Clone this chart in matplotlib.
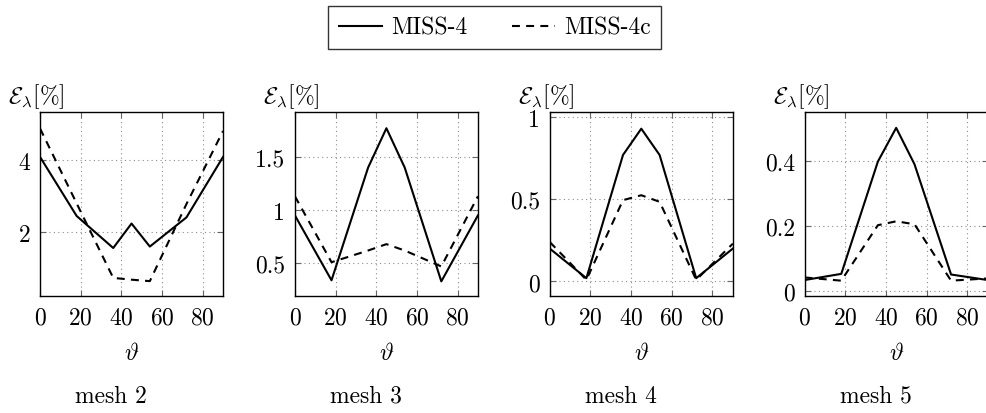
import matplotlib
matplotlib.use("Agg")
import matplotlib.pyplot as plt
from matplotlib.ticker import FuncFormatter

plt.rcParams['font.family'] = 'serif'
plt.rcParams['font.serif'] = ['cmr10', 'DejaVu Serif']
plt.rcParams['mathtext.fontset'] = 'cm'
plt.rcParams['axes.formatter.use_mathtext'] = True
plt.rcParams['font.size'] = 17

theta = [0, 18, 36, 45, 54, 72, 90]

miss4_mesh2 = [4.09, 2.45, 1.56, 2.24, 1.60, 2.41, 4.09]
miss4c_mesh2 = [4.88, 2.80, 0.73, 0.68, 0.64, 2.78, 4.81]
miss4_mesh3 = [0.95, 0.34, 1.40, 1.77, 1.40, 0.33, 0.95]
miss4c_mesh3 = [1.13, 0.51, 0.62, 0.68, 0.62, 0.47, 1.13]
miss4_mesh4 = [0.20, 0.02, 0.77, 0.93, 0.77, 0.02, 0.20]
miss4c_mesh4 = [0.24, 0.01, 0.495, 0.525, 0.485, 0.01, 0.23]
miss4_mesh5 = [0.033, 0.052, 0.398, 0.502, 0.39, 0.05, 0.033]
miss4c_mesh5 = [0.041, 0.031, 0.202, 0.214, 0.205, 0.031, 0.038]

mesh_names = ['mesh 2', 'mesh 3', 'mesh 4', 'mesh 5']
solid = [miss4_mesh2, miss4_mesh3, miss4_mesh4, miss4_mesh5]
dashed = [miss4c_mesh2, miss4c_mesh3, miss4c_mesh4, miss4c_mesh5]
yticks = [[2, 4], [0.5, 1, 1.5], [0, 0.5, 1], [0, 0.2, 0.4]]
ylims = [(0.22, 5.33), (0.19, 1.92), (-0.09, 1.03), (-0.017, 0.55)]
xticks = [0, 20, 40, 60, 80]

fig = plt.figure(figsize=(9.86, 4.14), dpi=100)

fmt = FuncFormatter(lambda v, p: '%g' % v)

for i in range(4):
    ax = fig.add_axes([0.0406 + i * 0.2585, 0.282, 0.1856, 0.4444])
    l1, = ax.plot(theta, solid[i], color='black', lw=1.5, label='MISS-4')
    l2, = ax.plot(theta, dashed[i], color='black', lw=1.5,
                  linestyle=(0, (3.8, 3)), label='MISS-4c')
    ax.set_xlim(0, 90)
    ax.set_ylim(*ylims[i])
    ax.set_xticks(xticks)
    ax.set_yticks(yticks[i])
    ax.yaxis.set_major_formatter(fmt)
    ax.grid(True, linestyle=(0, (1, 3)), color='0.55', lw=0.8)
    ax.tick_params(direction='in', top=True, right=True, length=4,
                   width=0.8, color='0.4', pad=7)
    for s in ax.spines.values():
        s.set_linewidth(1.0)
    ax.set_xlabel(r'$\vartheta$', va='center')
    ax.xaxis.set_label_coords(0.5, -0.31)
    ax.text(0.39, -0.54, mesh_names[i], transform=ax.transAxes,
            ha='center', va='center')
    ax.text(-0.02, 1.015, r'$\mathcal{E}_\lambda[\%]$', transform=ax.transAxes,
            ha='center', va='bottom')
    if i == 0:
        handles = [l1, l2]

leg = fig.legend(handles=handles, loc='upper center', ncol=2,
                 bbox_to_anchor=(0.502, 0.983), frameon=True, fancybox=False,
                 handlelength=1.8, handletextpad=0.4, columnspacing=1.9,
                 borderpad=0.45, borderaxespad=0)
leg.get_frame().set_edgecolor('black')
leg.get_frame().set_linewidth(1.0)

fig.savefig('out.png', dpi=100)
